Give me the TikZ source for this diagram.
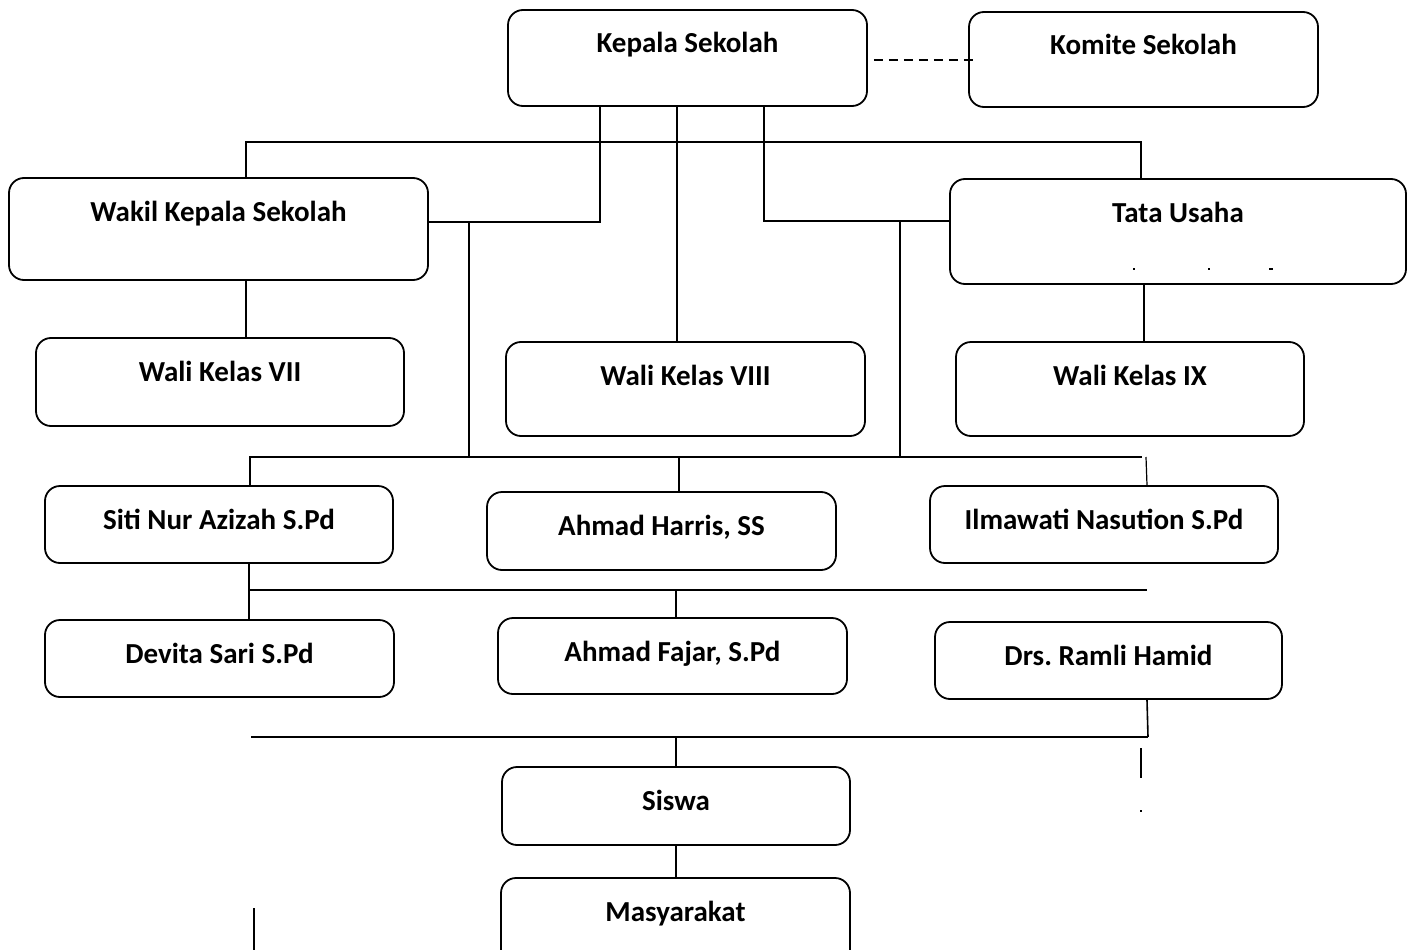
\documentclass[tikz,border=0pt]{standalone}
\usepackage{fontspec}
\setmainfont{Carlito}
\frenchspacing
\begin{document}
\begin{tikzpicture}[x=1pt,y=-1pt,
  ob/.style={draw, line width=1.8pt, rounded corners=15pt, inner sep=0pt},
  lbl/.style={font=\bfseries\fontsize{29}{34}\selectfont, inner sep=0pt, anchor=base},
  cn/.style={line width=1.6pt},
  thin/.style={line width=1.2pt}]
\useasboundingbox[fill=white] (0,0) rectangle (1409,950);
\newcommand\orgbox[6]{%
  \node[ob, minimum width={#4-#2}, minimum height={#5-#3}] (#1) at ({(#2+#4)/2},{(#3+#5)/2}) {};
  \node[lbl] (#1t) at ({(#2+#4)/2},{#3+43}) {#6};}
\orgbox{kepala}{508}{10}{867}{106}{Kepala Sekolah}
\orgbox{komite}{969}{12}{1318}{107}{Komite Sekolah}
\orgbox{wakil}{9}{178}{428}{280}{Wakil Kepala Sekolah}
\orgbox{tata}{950}{179}{1406}{284}{Tata Usaha}
\orgbox{wali7}{36}{338}{404}{426}{Wali Kelas VII}
\orgbox{wali8}{506}{342}{865}{436}{Wali Kelas VIII}
\orgbox{wali9}{956}{342}{1304}{436}{Wali Kelas IX}
\orgbox{siti}{45}{486}{393}{563}{Siti Nur Azizah S.Pd}
\orgbox{harris}{487}{492}{836}{570}{Ahmad Harris, SS}
\orgbox{ilma}{930}{486}{1278}{563}{Ilmawati Nasution S.Pd}
\orgbox{devita}{45}{620}{394}{697}{Devita Sari S.Pd}
\orgbox{fajar}{498}{618}{847}{694}{Ahmad Fajar, S.Pd}
\orgbox{ramli}{935}{622}{1282}{699}{Drs. Ramli Hamid}
\orgbox{siswa}{502}{767}{850}{845}{Siswa}
\orgbox{masy}{501}{878}{850}{966}{Masyarakat}
% dashed link
\draw[cn, dash pattern=on 9pt off 6pt] ([xshift=6pt]kepala.east |- 0,60) -- ([xshift=9pt]komite.west |- 0,60);
% bus coordinates
\coordinate (b1L) at (246,142);
\coordinate (b1R) at (1141,142);
\coordinate (b2L) at (249,457);
\coordinate (b2R) at (1142,457);
\coordinate (b3L) at (249,590);
\coordinate (b3R) at (1147,590);
\coordinate (b4L) at (251,737);
\coordinate (b4R) at (1148,737);
% top level
\draw[cn] (wakil.north -| b1L) -- (b1L) -- (b1R) -- (tata.north -| b1R);
\draw[cn] (kepala.south -| 600,0) -- (600,222) -- (wakil.east |- 0,222);
\draw[cn] (kepala.south -| 677,0) -- (wali8.north -| 677,0);
\draw[cn] (kepala.south -| 764,0) -- (764,221) -- (tata.west |- 0,221);
\draw[cn] (wakil.south -| 246,0) -- (wali7.north -| 246,0);
\draw[cn] (tata.south -| 1144,0) -- (wali9.north -| 1144,0);
\draw[cn] (wakil.east -| 469,0) ++(0,-6.5) -- (469,457);
\draw[cn] (900,221) -- (900,457);
% second bus
\draw[cn] (b2L) -- (b2R);
\draw[thin] (250,457) -- (siti.north -| 250,0);
\draw[thin] (679,457) -- (harris.north -| 679,0);
\draw[thin] (1146,457) -- (ilma.north -| 1147,0);
% third bus
\draw[cn] (siti.south -| 249,0) -- (devita.north -| 249,0);
\draw[cn] (b3L) -- (b3R);
\draw[thin] (676,590) -- (fajar.north -| 676,0);
% fourth bus
\draw[cn] (ramli.south -| 1147,0) -- (b4R);
\draw[cn] (b4L) -- (b4R);
\draw[thin] (676,737) -- (siswa.north -| 676,0);
\draw[thin] (siswa.south -| 676,0) -- (masy.north -| 676,0);
% stray marks
\draw[thin] (1141,748) -- (1141,778);
\fill (1140.3,810.3) rectangle (1141.7,811.7);
\draw[thin] (254,908) -- (254,950);
\fill (1133,268.3) rectangle (1135,269.7);
\fill (1208,268.3) rectangle (1210,269.7);
\fill (1269,268.3) rectangle (1273,269.7);
\end{tikzpicture}
\end{document}
